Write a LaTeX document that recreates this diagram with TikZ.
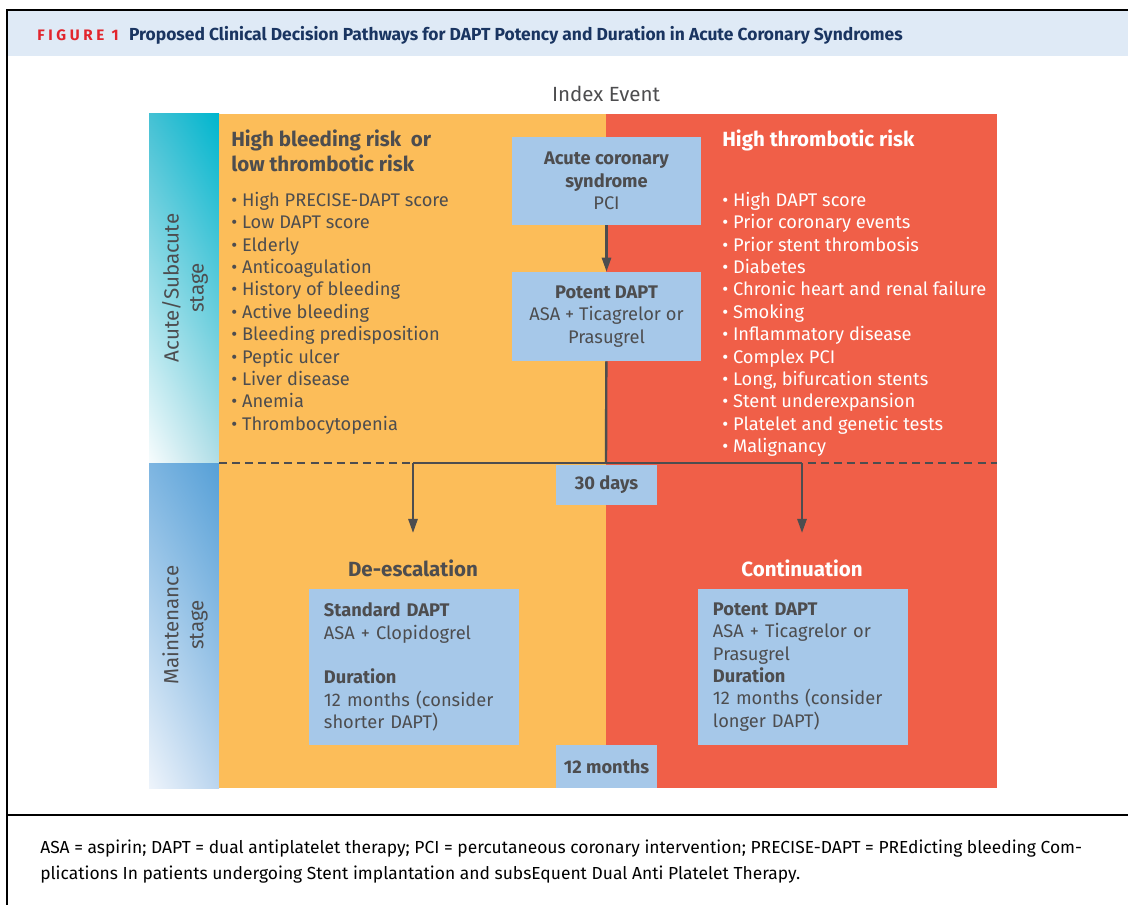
\documentclass[tikz,border=0pt]{standalone}
\usepackage{fontspec}
\setmainfont{Fira Sans}
\usetikzlibrary{arrows.meta,positioning,shadings}

\definecolor{ink}{HTML}{4D4D4F}
\definecolor{navy}{HTML}{1A3561}
\definecolor{figred}{HTML}{E2252D}
\definecolor{band}{HTML}{DFEAF6}
\definecolor{orangefill}{HTML}{FCBD59}
\definecolor{redfill}{HTML}{F05F48}
\definecolor{boxblue}{HTML}{A6C8E9}
\definecolor{cyanTR}{HTML}{00B6CE}
\definecolor{cyanTL}{HTML}{45C1D4}
\definecolor{cyanBR}{HTML}{B0DDE6}
\definecolor{cyanBL}{HTML}{F7FCFD}
\definecolor{blueTR}{HTML}{56A0D7}
\definecolor{blueTL}{HTML}{7DB5E1}
\definecolor{blueBR}{HTML}{B9D4EE}
\definecolor{blueBL}{HTML}{EEF4FB}

\newcommand{\itm}{\textbullet\ }

\begin{document}
\begin{tikzpicture}
[x=0.025cm, y=-0.025cm, font=\fontsize{13}{15.9}\selectfont, text=ink]
\tikzstyle{infobox}=[fill=boxblue, inner sep=0pt, align=center, text=ink]
\tikzstyle{drugbox}=[fill=boxblue, inner xsep=0.375cm, inner ysep=0pt, text width=4.5cm, minimum height=3.9cm, align=left, text=ink]
\tikzstyle{riskhead}=[anchor=north west, inner sep=0pt, align=left, font=\fontsize{14.6}{17.8}\selectfont\bfseries]
\tikzstyle{risklist}=[anchor=north west, inner sep=0pt, align=left]
\tikzstyle{stagelabel}=[rotate=90, align=center, font=\fontsize{14.6}{17.8}\selectfont]
\tikzstyle{flow}=[draw=ink, line width=1.7pt]
\tikzstyle{tip}=[-{Triangle[width=6.5pt,length=10pt]}]

\useasboundingbox (0,0) rectangle (1128,905);

% frame and title band
\fill[band] (8,11) rectangle (1128,56);
\draw[line width=1.4pt] (1128,10) -- (7,10) -- (7,905);
\draw[line width=1.4pt] (7,815) -- (1128,815);
\node[anchor=west, inner sep=0pt, text=figred, font=\fontsize{10.8}{12}\selectfont\bfseries\addfontfeature{LetterSpace=24}] (fig) at (37,35) {FIGURE 1};
\node[anchor=west, inner sep=0pt, text=navy, font=\fontsize{12.4}{14}\selectfont\bfseries, right=7pt of fig] (title) {Proposed Clinical Decision Pathways for DAPT Potency and Duration in Acute Coronary Syndromes};

% panels
\shade[upper left=cyanTL, upper right=cyanTR, lower left=cyanBL, lower right=cyanBR] (149,114) rectangle (219,463);
\shade[upper left=blueTL, upper right=blueTR, lower left=blueBL, lower right=blueBR] (149,463) rectangle (219,788);
\fill[orangefill] (219,114) rectangle (606,788);
\fill[redfill] (606,114) rectangle (997,788);
\draw[ink, line width=1.7pt, dash pattern=on 5.7pt off 3.6pt] (219,463) -- (997,463);

\node[font=\fontsize{14.6}{17.8}\selectfont] (index) at (606,94) {Index Event};
\node[stagelabel] (acute) at (185,288) {Acute/Subacute\\stage};
\node[stagelabel] (maint) at (185,625) {Maintenance\\stage};

% risk profiles
\node[riskhead] (bleedhead) at (231,130) {High bleeding risk\ \ or\\low thrombotic risk};
\node[risklist] (bleedlist) at (231,192) {\itm High PRECISE-DAPT score\\\itm Low DAPT score\\\itm Elderly\\\itm Anticoagulation\\\itm History of bleeding\\\itm Active bleeding\\\itm Bleeding predisposition\\\itm Peptic ulcer\\\itm Liver disease\\\itm Anemia\\\itm Thrombocytopenia};
\node[riskhead, text=white] (thrombhead) at (722,130) {High thrombotic risk};
\node[risklist, text=white] (thromblist) at (722,192) {\itm High DAPT score\\\itm Prior coronary events\\\itm Prior stent thrombosis\\\itm Diabetes\\\itm Chronic heart and renal failure\\\itm Smoking\\\itm Inflammatory disease\\\itm Complex PCI\\\itm Long, bifurcation stents\\\itm Stent underexpansion\\\itm Platelet and genetic tests\\\itm Malignancy};

% pathway
\node[infobox, minimum width=4.725cm, minimum height=2.2cm] (acs) at (606.5,181) {\bfseries Acute coronary\\\bfseries syndrome\\PCI};
\node[infobox, minimum width=4.725cm, minimum height=2.225cm] (potent) at (606.5,316.5) {\bfseries Potent DAPT\\ASA + Ticagrelor or\\Prasugrel};
\node[infobox, minimum width=2.525cm, minimum height=1.0cm, font=\fontsize{13}{15.9}\selectfont\bfseries] (days) at (606.5,485) {30 days};
\node[infobox, minimum width=2.525cm, minimum height=1.075cm, font=\fontsize{13}{15.9}\selectfont\bfseries] (months) at (606.5,766.5) {12 months};

\coordinate (split) at (606,463);
\coordinate (deesc) at (413,463);
\coordinate (cont) at (802,463);
\coordinate (deescend) at (413,533);
\coordinate (contend) at (802,533);

\node[font=\fontsize{14.6}{17.8}\selectfont\bfseries] (deeschead) at (413,568) {De-escalation};
\node[font=\fontsize{14.6}{17.8}\selectfont\bfseries, text=white] (conthead) at (802,568) {Continuation};
\node[drugbox] (standard) at (414,667) {\textbf{Standard DAPT}\\ASA + Clopidogrel\\[15.9pt]\textbf{Duration}\\12 months (consider\\shorter DAPT)};
\node[drugbox] (longer) at (803,667) {\textbf{Potent DAPT}\\ASA + Ticagrelor or\\Prasugrel\\\textbf{Duration}\\12 months (consider\\longer DAPT)};

\draw[flow, tip] (acs) -- (potent);
\draw[flow] (potent) -- (split);
\draw[flow] (deesc) -- (cont);
\draw[flow, tip] (deesc) -- (deescend);
\draw[flow, tip] (cont) -- (contend);

% abbreviations
\node[anchor=north west, inner sep=0pt, align=left, text=black, font=\fontsize{12.4}{18.5}\selectfont] (abbrev) at (40,840) {ASA = aspirin; DAPT = dual antiplatelet therapy; PCI = percutaneous coronary intervention; PRECISE-DAPT = PREdicting bleeding Com-\\plications In patients undergoing Stent implantation and subsEquent Dual Anti Platelet Therapy.};
\end{tikzpicture}
\end{document}
